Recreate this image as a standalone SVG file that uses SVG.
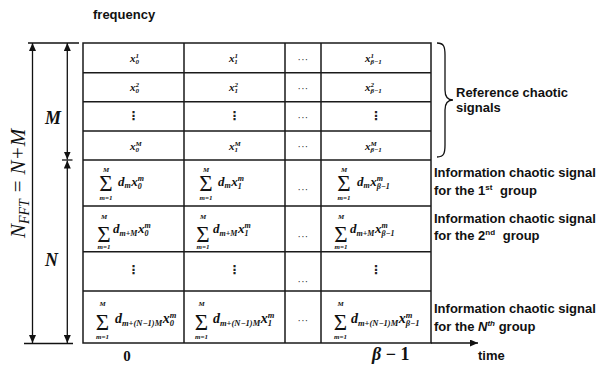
<svg xmlns="http://www.w3.org/2000/svg" width="600" height="366" viewBox="0 0 600 366">
<defs>
<style>
.grid{stroke:#1a1a1a;stroke-width:1.5;fill:none}
.ln{stroke:#111;stroke-width:1.3;fill:none}
.mi{font-family:"Liberation Serif",serif;font-style:italic;font-weight:bold;fill:#111}
.sig{font-family:"Liberation Serif",serif;font-size:23px;text-anchor:middle;fill:#111}
.lim{font-family:"Liberation Serif",serif;font-style:italic;font-weight:bold;font-size:7px;text-anchor:middle;fill:#111}
.lbl{font-family:"Liberation Sans",Arial,sans-serif;font-weight:bold;font-size:13px;fill:#111}
.dots{font-family:"Liberation Sans",sans-serif;font-size:10px;text-anchor:middle;fill:#333;letter-spacing:0.3px}
.vd{font-family:"DejaVu Sans",sans-serif;font-size:12px;font-weight:bold;text-anchor:middle;fill:#222}
.ax{font-family:"Liberation Serif",serif;font-weight:bold;fill:#111}
</style>
<marker id="ah" viewBox="0 0 8 7" refX="8" refY="3.5" markerWidth="8" markerHeight="7" markerUnits="userSpaceOnUse" orient="auto-start-reverse">
<path d="M0,0 L8,3.5 L0,7 z" fill="#111"/>
</marker>
</defs>
<rect width="600" height="366" fill="#fff"/>

<g id="table">
<rect class="grid" x="83" y="43" width="348" height="300"/>
<path class="grid" d="M83,72.7H431M83,101.7H431M83,131H431M83,160H431M83,206H431M83,251.7H431M83,291H431M184,43V343M285,43V343M321,43V343"/>
</g>

<g id="row1">
<text class="mi" x="130" y="61.5" font-size="11">x<tspan font-size="7" dy="-4">1</tspan><tspan font-size="7" dx="-3.5" dy="6.5">0</tspan></text>
<text class="mi" x="229" y="61.5" font-size="11">x<tspan font-size="7" dy="-4">1</tspan><tspan font-size="7" dx="-3.5" dy="6.5">1</tspan></text>
<text class="dots" x="303" y="63">···</text>
<text class="mi" x="365" y="61.5" font-size="11">x<tspan font-size="7" dy="-4">1</tspan><tspan font-size="7" dx="-3.5" dy="6.5">β−1</tspan></text>
</g>
<g id="row2">
<text class="mi" x="130" y="90.5" font-size="11">x<tspan font-size="7" dy="-4">2</tspan><tspan font-size="7" dx="-3.5" dy="6.5">0</tspan></text>
<text class="mi" x="229" y="90.5" font-size="11">x<tspan font-size="7" dy="-4">2</tspan><tspan font-size="7" dx="-3.5" dy="6.5">1</tspan></text>
<text class="dots" x="303" y="92">···</text>
<text class="mi" x="365" y="90.5" font-size="11">x<tspan font-size="7" dy="-4">2</tspan><tspan font-size="7" dx="-3.5" dy="6.5">β−1</tspan></text>
</g>
<g id="row3">
<text class="vd" x="133.5" y="120">⋮</text>
<text class="vd" x="234.5" y="120">⋮</text>
<text class="dots" x="303" y="121">···</text>
<text class="vd" x="376" y="120">⋮</text>
</g>
<g id="row4">
<text class="mi" x="130" y="149.5" font-size="11">x<tspan font-size="7" dy="-4">M</tspan><tspan font-size="7" dx="-6.2" dy="6.5">0</tspan></text>
<text class="mi" x="229" y="149.5" font-size="11">x<tspan font-size="7" dy="-4">M</tspan><tspan font-size="7" dx="-6.2" dy="6.5">1</tspan></text>
<text class="dots" x="303" y="150">···</text>
<text class="mi" x="365" y="149.5" font-size="11">x<tspan font-size="7" dy="-4">M</tspan><tspan font-size="7" dx="-6.2" dy="6.5">β−1</tspan></text>
</g>

<g id="row5">
<text class="sig" x="106" y="190.5">Σ</text>
<text class="lim" x="106" y="171.5" font-size="8">M</text>
<text class="lim" x="106" y="199.5">m=1</text>
<text class="mi" x="118" y="185.5" font-size="13">d<tspan font-size="8" dy="2.5">m</tspan><tspan dx="0.5" dy="-2.5">x</tspan><tspan font-size="8" dy="-5">m</tspan><tspan font-size="8" dx="-6.2" dy="8">0</tspan></text>
<text class="sig" x="206" y="190.5">Σ</text>
<text class="lim" x="206" y="171.5" font-size="8">M</text>
<text class="lim" x="206" y="199.5">m=1</text>
<text class="mi" x="218" y="185.5" font-size="13">d<tspan font-size="8" dy="2.5">m</tspan><tspan dx="0.5" dy="-2.5">x</tspan><tspan font-size="8" dy="-5">m</tspan><tspan font-size="8" dx="-6.2" dy="8">1</tspan></text>
<text class="dots" x="303" y="193">···</text>
<text class="sig" x="344" y="190.5">Σ</text>
<text class="lim" x="344" y="171.5" font-size="8">M</text>
<text class="lim" x="344" y="199.5">m=1</text>
<text class="mi" x="357" y="185.5" font-size="13">d<tspan font-size="8" dy="2.5">m</tspan><tspan dx="0.5" dy="-2.5">x</tspan><tspan font-size="8" dy="-5">m</tspan><tspan font-size="8" dx="-6.2" dy="8">β−1</tspan></text>
</g>

<g id="row6">
<text class="sig" x="104" y="241.5">Σ</text>
<text class="lim" x="104" y="219" font-size="8">M</text>
<text class="lim" x="104" y="248.5">m=1</text>
<text class="mi" x="113" y="233" font-size="13">d<tspan font-size="8" dy="2.5">m+M</tspan><tspan dx="0.5" dy="-2.5">x</tspan><tspan font-size="8" dy="-5">m</tspan><tspan font-size="8" dx="-6.2" dy="8">0</tspan></text>
<text class="sig" x="203" y="241.5">Σ</text>
<text class="lim" x="203" y="219" font-size="8">M</text>
<text class="lim" x="203" y="248.5">m=1</text>
<text class="mi" x="213" y="233" font-size="13">d<tspan font-size="8" dy="2.5">m+M</tspan><tspan dx="0.5" dy="-2.5">x</tspan><tspan font-size="8" dy="-5">m</tspan><tspan font-size="8" dx="-6.2" dy="8">1</tspan></text>
<text class="dots" x="303" y="240">···</text>
<text class="sig" x="341" y="241.5">Σ</text>
<text class="lim" x="341" y="219" font-size="8">M</text>
<text class="lim" x="341" y="248.5">m=1</text>
<text class="mi" x="350" y="233" font-size="13">d<tspan font-size="8" dy="2.5">m+M</tspan><tspan dx="0.5" dy="-2.5">x</tspan><tspan font-size="8" dy="-5">m</tspan><tspan font-size="8" dx="-6.2" dy="8">β−1</tspan></text>
</g>

<g id="row7">
<text class="vd" x="133.5" y="274">⋮</text>
<text class="vd" x="234.5" y="274">⋮</text>
<text class="dots" x="303" y="285">···</text>
<text class="vd" x="376" y="274">⋮</text>
</g>

<g id="row8">
<text class="sig" x="102.5" y="330">Σ</text>
<text class="lim" x="102.5" y="306" font-size="8">M</text>
<text class="lim" x="102.5" y="338.5">m=1</text>
<text class="mi" x="115" y="323" font-size="14">d<tspan font-size="8.5" dy="2.5">m+(N−1)M</tspan><tspan dx="0.5" dy="-2.5">x</tspan><tspan font-size="8.5" dy="-5">m</tspan><tspan font-size="8.5" dx="-6.6" dy="8">0</tspan></text>
<text class="sig" x="201.5" y="330">Σ</text>
<text class="lim" x="201.5" y="306" font-size="8">M</text>
<text class="lim" x="201.5" y="338.5">m=1</text>
<text class="mi" x="213" y="323" font-size="14">d<tspan font-size="8.5" dy="2.5">m+(N−1)M</tspan><tspan dx="0.5" dy="-2.5">x</tspan><tspan font-size="8.5" dy="-5">m</tspan><tspan font-size="8.5" dx="-6.6" dy="8">1</tspan></text>
<text class="dots" x="303" y="324">···</text>
<text class="sig" x="340.5" y="330">Σ</text>
<text class="lim" x="340.5" y="306" font-size="8">M</text>
<text class="lim" x="340.5" y="338.5">m=1</text>
<text class="mi" x="351" y="323" font-size="14">d<tspan font-size="8.5" dy="2.5">m+(N−1)M</tspan><tspan dx="0.5" dy="-2.5">x</tspan><tspan font-size="8.5" dy="-5">m</tspan><tspan font-size="8.5" dx="-6.6" dy="8">β−1</tspan></text>
</g>

<g id="connectors">
<line class="ln" x1="28" y1="43" x2="79" y2="43"/>
<line class="ln" x1="24" y1="343.5" x2="73" y2="343.5"/>
<line class="ln" x1="32.5" y1="43" x2="32.5" y2="343" marker-start="url(#ah)" marker-end="url(#ah)"/>
<line class="ln" x1="67.3" y1="43" x2="67.3" y2="159.5" marker-start="url(#ah)" marker-end="url(#ah)"/>
<line class="ln" x1="67.3" y1="160.5" x2="67.3" y2="343" marker-start="url(#ah)" marker-end="url(#ah)"/>
<line class="ln" x1="62" y1="160" x2="72.5" y2="160"/>
<line class="ln" x1="431" y1="343" x2="478" y2="343" marker-end="url(#ah)"/>
</g>

<g id="brace">
<path class="ln" d="M437,43 C444,43 445,47 445,55 L445,90 C445,97 448,100 453,100 C448,100 445,103 445,110 L445,145 C445,153 444,157 437,157"/>
</g>

<g id="axis-labels">
<text class="lbl" x="93" y="19">frequency</text>
<text class="lbl" x="478" y="360">time</text>
<text class="ax" x="127" y="361" font-size="15" text-anchor="middle">0</text>
<text class="ax" x="372" y="360" font-size="18" font-style="italic">β <tspan font-style="normal">− 1</tspan></text>
<text class="mi" x="53" y="124" font-size="18" text-anchor="middle">M</text>
<text class="mi" x="51.5" y="266" font-size="18" text-anchor="middle">N</text>
<text font-family="Liberation Serif,serif" font-style="italic" font-size="21" fill="#111" transform="translate(25,238) rotate(-90)" x="0" y="0">N<tspan font-size="14" dy="4">FFT</tspan><tspan dy="-4"> = N+M</tspan></text>
</g>

<g id="side-labels">
<text class="lbl" x="456" y="97">Reference chaotic</text>
<text class="lbl" x="456" y="112">signals</text>
<text class="lbl" x="434" y="177">Information chaotic signal</text>
<text class="lbl" x="434" y="195">for the 1<tspan font-size="8" dy="-5">st</tspan><tspan dx="4" dy="5"> group</tspan></text>
<text class="lbl" x="434" y="223">Information chaotic signal</text>
<text class="lbl" x="434" y="240">for the 2<tspan font-size="8" dy="-5">nd</tspan><tspan dx="4" dy="5"> group</tspan></text>
<text class="lbl" x="434" y="313">Information chaotic signal</text>
<text class="lbl" x="434" y="331">for the <tspan font-style="italic">N</tspan><tspan font-size="8" font-style="italic" dy="-5">th</tspan><tspan dy="5"> group</tspan></text>
</g>
</svg>
